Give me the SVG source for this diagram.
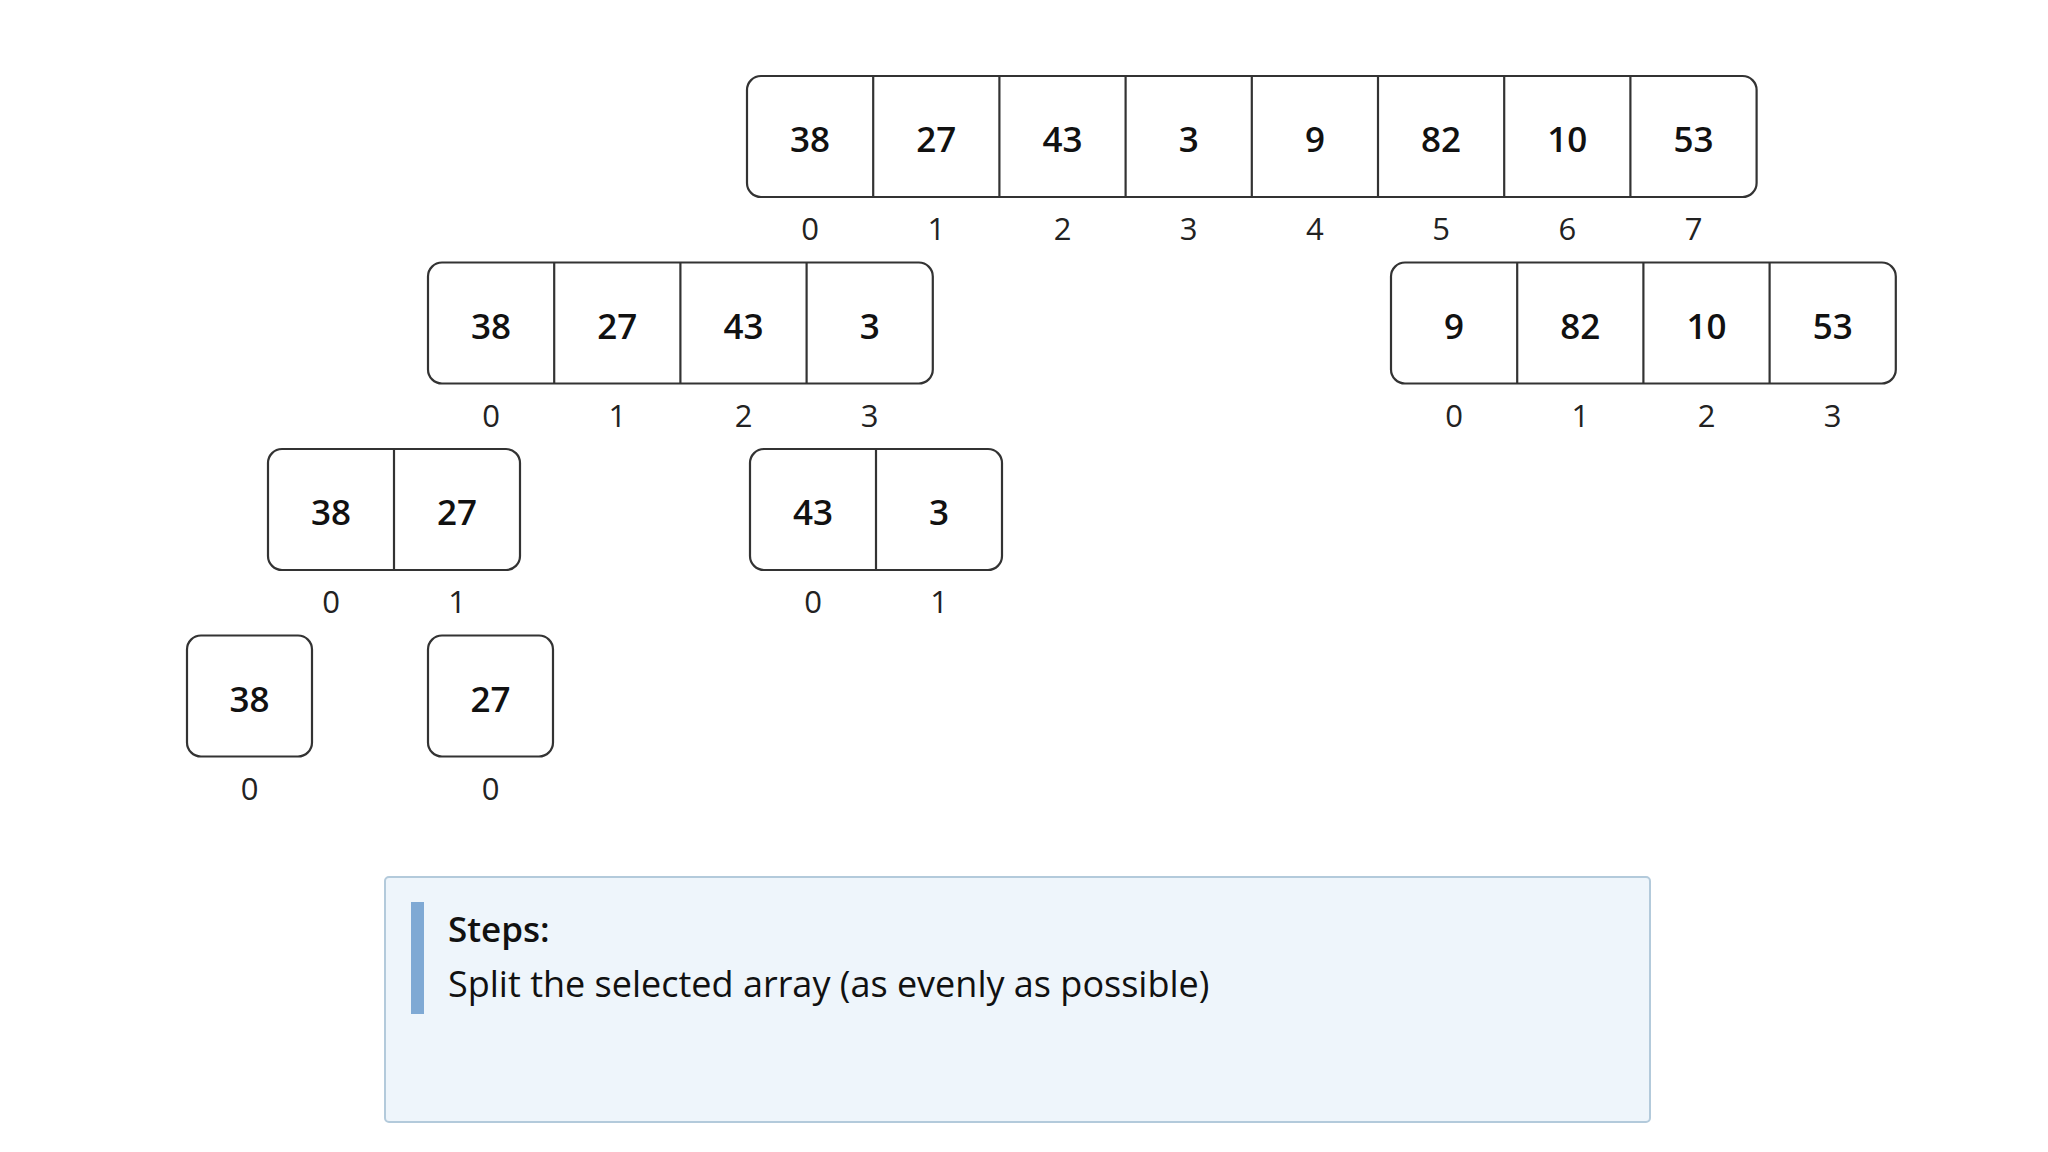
<svg xmlns="http://www.w3.org/2000/svg" width="2048" height="1152" viewBox="0 0 2048 1152">
<style>
.box{fill:#fff;stroke:#333;stroke-width:2.2}
.div{stroke:#333;stroke-width:2.2}
.val{font-family:"Open Sans","Noto Sans",sans-serif;font-size:35px;font-weight:600;fill:#111;text-anchor:middle}
.idx{font-family:"Open Sans","Noto Sans",sans-serif;font-size:31px;fill:#222;text-anchor:middle}
.t1{font-family:"Open Sans","Noto Sans",sans-serif;font-size:35px;font-weight:600;fill:#111}
.t2{font-family:"Open Sans","Noto Sans",sans-serif;font-size:36px;fill:#111}
</style>
<rect width="2048" height="1152" fill="#fff"/>
<g id="connectors"/>

<g id="array-top">
<rect class="box" x="747" y="76" width="1009.6" height="121" rx="14"/>
<line class="div" x1="873.2" y1="76" x2="873.2" y2="197"/>
<line class="div" x1="999.4" y1="76" x2="999.4" y2="197"/>
<line class="div" x1="1125.6" y1="76" x2="1125.6" y2="197"/>
<line class="div" x1="1251.8" y1="76" x2="1251.8" y2="197"/>
<line class="div" x1="1378" y1="76" x2="1378" y2="197"/>
<line class="div" x1="1504.2" y1="76" x2="1504.2" y2="197"/>
<line class="div" x1="1630.4" y1="76" x2="1630.4" y2="197"/>
<text class="val" x="810.1" y="152">38</text>
<text class="val" x="936.3" y="152">27</text>
<text class="val" x="1062.5" y="152">43</text>
<text class="val" x="1188.7" y="152">3</text>
<text class="val" x="1314.9" y="152">9</text>
<text class="val" x="1441.1" y="152">82</text>
<text class="val" x="1567.3" y="152">10</text>
<text class="val" x="1693.5" y="152">53</text>
<text class="idx" x="810.1" y="240">0</text>
<text class="idx" x="936.3" y="240">1</text>
<text class="idx" x="1062.5" y="240">2</text>
<text class="idx" x="1188.7" y="240">3</text>
<text class="idx" x="1314.9" y="240">4</text>
<text class="idx" x="1441.1" y="240">5</text>
<text class="idx" x="1567.3" y="240">6</text>
<text class="idx" x="1693.5" y="240">7</text>
</g>

<g id="array-left">
<rect class="box" x="428" y="262.5" width="504.8" height="121" rx="14"/>
<line class="div" x1="554.2" y1="262.5" x2="554.2" y2="383.5"/>
<line class="div" x1="680.4" y1="262.5" x2="680.4" y2="383.5"/>
<line class="div" x1="806.6" y1="262.5" x2="806.6" y2="383.5"/>
<text class="val" x="491.1" y="338.5">38</text>
<text class="val" x="617.3" y="338.5">27</text>
<text class="val" x="743.5" y="338.5">43</text>
<text class="val" x="869.7" y="338.5">3</text>
<text class="idx" x="491.1" y="426.5">0</text>
<text class="idx" x="617.3" y="426.5">1</text>
<text class="idx" x="743.5" y="426.5">2</text>
<text class="idx" x="869.7" y="426.5">3</text>
</g>

<g id="array-right">
<rect class="box" x="1391" y="262.5" width="504.8" height="121" rx="14"/>
<line class="div" x1="1517.2" y1="262.5" x2="1517.2" y2="383.5"/>
<line class="div" x1="1643.4" y1="262.5" x2="1643.4" y2="383.5"/>
<line class="div" x1="1769.6" y1="262.5" x2="1769.6" y2="383.5"/>
<text class="val" x="1454.1" y="338.5">9</text>
<text class="val" x="1580.3" y="338.5">82</text>
<text class="val" x="1706.5" y="338.5">10</text>
<text class="val" x="1832.7" y="338.5">53</text>
<text class="idx" x="1454.1" y="426.5">0</text>
<text class="idx" x="1580.3" y="426.5">1</text>
<text class="idx" x="1706.5" y="426.5">2</text>
<text class="idx" x="1832.7" y="426.5">3</text>
</g>

<g id="array-left-left">
<rect class="box" x="268" y="449" width="252" height="121" rx="14"/>
<line class="div" x1="394" y1="449" x2="394" y2="570"/>
<text class="val" x="331" y="525">38</text>
<text class="val" x="457" y="525">27</text>
<text class="idx" x="331" y="613">0</text>
<text class="idx" x="457" y="613">1</text>
</g>

<g id="array-left-right">
<rect class="box" x="750" y="449" width="252" height="121" rx="14"/>
<line class="div" x1="876" y1="449" x2="876" y2="570"/>
<text class="val" x="813" y="525">43</text>
<text class="val" x="939" y="525">3</text>
<text class="idx" x="813" y="613">0</text>
<text class="idx" x="939" y="613">1</text>
</g>

<g id="array-38">
<rect class="box" x="187" y="635.5" width="125" height="121" rx="14"/>
<text class="val" x="249.5" y="711.5">38</text>
<text class="idx" x="249.5" y="799.5">0</text>
</g>

<g id="array-27">
<rect class="box" x="428" y="635.5" width="125" height="121" rx="14"/>
<text class="val" x="490.5" y="711.5">27</text>
<text class="idx" x="490.5" y="799.5">0</text>
</g>

<g id="steps">
<rect x="385" y="877" width="1265" height="245" rx="4" fill="#eef5fb" stroke="#b3cadb" stroke-width="2"/>
<rect x="411" y="902" width="13" height="112" fill="#7fa9d4"/>
<text class="t1" x="448" y="942">Steps:</text>
<text class="t2" x="448" y="997">Split the selected array (as evenly as possible)</text>
</g>
</svg>
